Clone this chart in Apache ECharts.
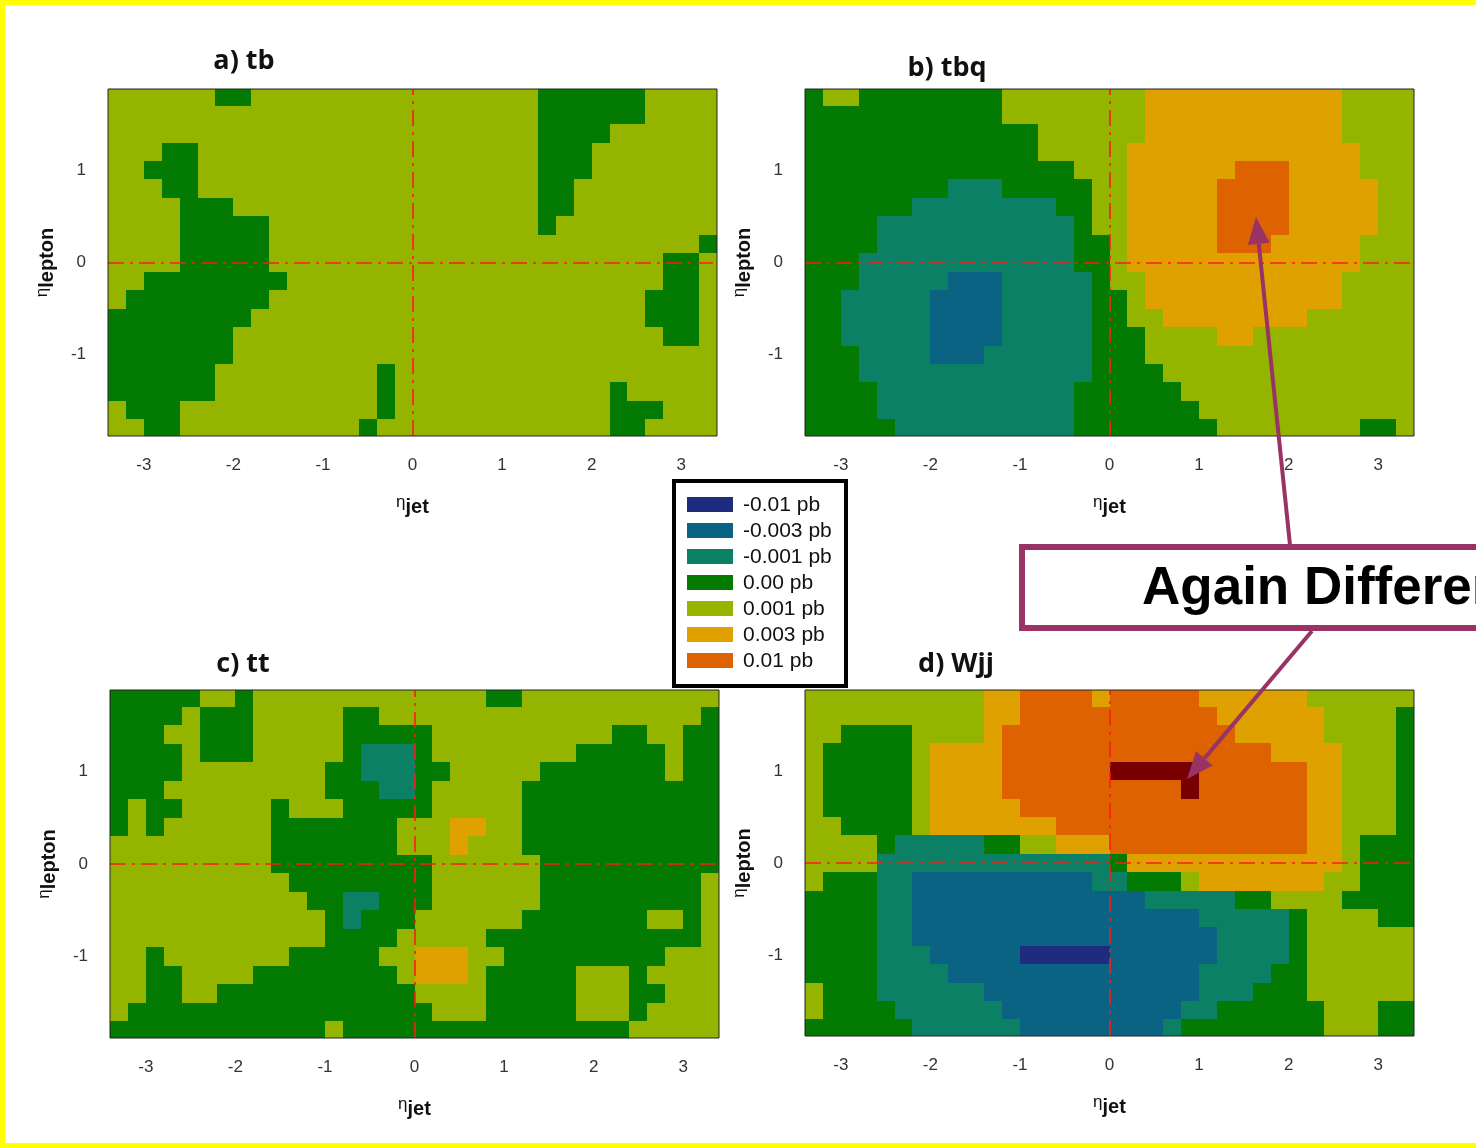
<!DOCTYPE html>
<html>
<head>
<meta charset="utf-8">
<title>eta_jet vs eta_lepton asymmetry maps</title>
<script src="https://cdn.jsdelivr.net/npm/echarts@6/dist/echarts.min.js"></script>
<style>
  html, body { margin: 0; padding: 0; background: #ffffff; }
  #chart { width: 1476px; height: 1148px; }
</style>
</head>
<body>
<div id="chart"></div>
<script>
// Contour levels (pb) and their fill colours; index 7 is the level above 0.01 pb
const LEVELS = [-0.01, -0.003, -0.001, 0, 0.001, 0.003, 0.01, 0.03];
const LEVEL_COLORS = ['#1f2b7e', '#0b6384', '#0b8064', '#037a02', '#94b400', '#dfa100', '#de6300', '#780000'];
const LEGEND_LABELS = ['-0.01 pb', '-0.003 pb', '-0.001 pb', '0.00 pb', '0.001 pb', '0.003 pb', '0.01 pb'];

const X_TICKS = [-3, -2, -1, 0, 1, 2, 3];
const Y_TICKS = [-1, 0, 1];

// Sampling grid: 34 columns in eta_jet (centres -3.3 .. 3.3), 19 rows in eta_lepton (centres 1.8 .. -1.8)
const X_FIRST = -3.3, Y_FIRST = 1.8, STEP = 0.2;

const PANEL_TITLES = ['a) tb', 'b) tbq', 'c) tt', 'd) Wjj'];

// Each row (top to bottom) is run-length coded as "level x count", level = index into LEVELS
const TB = [
  '4x6 3x2 4x16 3x6 4x4',
  '4x24 3x6 4x4',
  '4x24 3x4 4x6',
  '4x3 3x2 4x19 3x3 4x7',
  '4x2 3x3 4x19 3x3 4x7',
  '4x3 3x2 4x19 3x2 4x8',
  '4x4 3x3 4x17 3x2 4x8',
  '4x4 3x5 4x15 3x1 4x9',
  '4x4 3x5 4x24 3x1',
  '4x4 3x5 4x22 3x2 4x1',
  '4x2 3x8 4x21 3x2 4x1',
  '4x1 3x8 4x21 3x3 4x1',
  '3x8 4x22 3x3 4x1',
  '3x7 4x24 3x2 4x1',
  '3x7 4x27',
  '3x6 4x9 3x1 4x18',
  '3x6 4x9 3x1 4x12 3x1 4x5',
  '4x1 3x3 4x11 3x1 4x12 3x3 4x3',
  '4x2 3x2 4x10 3x1 4x13 3x2 4x4'
];

const TBQ = [
  '3x1 4x2 3x8 4x8 5x11 4x4',
  '3x11 4x8 5x11 4x4',
  '3x13 4x6 5x11 4x4',
  '3x13 4x5 5x13 4x3',
  '3x15 4x3 5x6 6x3 5x4 4x3',
  '3x8 2x3 3x5 4x2 5x5 6x4 5x5 4x2',
  '3x6 2x8 3x2 4x2 5x5 6x4 5x5 4x2',
  '3x4 2x11 3x1 4x2 5x5 6x4 5x5 4x2',
  '3x4 2x11 3x2 4x1 5x5 6x3 5x5 4x3',
  '3x3 2x12 3x2 4x1 5x13 4x3',
  '3x3 2x5 1x3 2x5 3x1 4x2 5x11 4x4',
  '3x2 2x5 1x4 2x5 3x2 4x1 5x11 4x4',
  '3x2 2x5 1x4 2x5 3x2 4x2 5x8 4x6',
  '3x2 2x5 1x4 2x5 3x3 4x4 5x2 4x9',
  '3x3 2x4 1x3 2x6 3x3 4x15',
  '3x3 2x13 3x4 4x14',
  '3x4 2x11 3x6 4x13',
  '3x4 2x11 3x7 4x12',
  '3x5 2x10 3x8 4x8 3x2 4x1'
];

const TT = [
  '3x5 4x2 3x1 4x13 3x2 4x11',
  '3x4 4x1 3x3 4x5 3x2 4x18 3x1',
  '3x3 4x2 3x3 4x5 3x5 4x10 3x2 4x2 3x2',
  '3x4 4x1 3x3 4x5 3x1 2x3 3x1 4x8 3x5 4x1 3x2',
  '3x4 4x8 3x2 2x3 3x2 4x5 3x7 4x1 3x2',
  '3x3 4x9 3x3 2x2 3x1 4x5 3x11',
  '3x1 4x1 3x2 4x5 3x1 4x3 3x5 4x5 3x11',
  '3x1 4x1 3x1 4x6 3x7 4x3 5x2 4x2 3x11',
  '4x9 3x7 4x3 5x1 4x3 3x11',
  '4x9 3x9 4x6 3x10',
  '4x10 3x8 4x6 3x9 4x1',
  '4x11 3x2 2x2 3x3 4x6 3x9 4x1',
  '4x12 3x1 2x1 3x3 4x6 3x7 4x2 3x1 4x1',
  '4x12 3x4 4x5 3x12 4x1',
  '4x2 3x1 4x7 3x5 4x2 5x3 4x2 3x9 4x3',
  '4x2 3x2 4x4 3x8 4x1 5x3 4x1 3x5 4x3 3x1 4x4',
  '4x2 3x2 4x2 3x11 4x4 3x5 4x3 3x2 4x3',
  '4x1 3x17 4x3 3x5 4x3 3x1 4x4',
  '3x12 4x1 3x16 4x5'
];

const WJJ = [
  '4x10 5x2 6x4 5x1 6x5 5x6 4x6',
  '4x10 5x2 6x11 5x6 4x4 3x1',
  '4x2 3x4 4x4 5x1 6x13 5x5 4x4 3x1',
  '4x1 3x5 4x1 5x4 6x15 5x4 4x3 3x1',
  '4x1 3x5 4x1 5x4 6x6 7x5 6x6 5x2 4x3 3x1',
  '4x1 3x5 4x1 5x4 6x10 7x1 6x6 5x2 4x3 3x1',
  '4x1 3x5 4x1 5x5 6x16 5x2 4x3 3x1',
  '4x2 3x4 4x1 5x7 6x14 5x2 4x3 3x1',
  '4x4 3x1 2x5 3x2 4x2 5x3 6x11 5x2 4x1 3x3',
  '4x4 2x13 3x1 5x12 4x1 3x3',
  '4x1 3x3 2x2 1x10 2x2 3x3 4x1 5x7 4x2 3x3',
  '3x4 2x2 1x13 2x5 3x2 4x4 3x4',
  '3x4 2x2 1x16 2x5 3x1 4x4 3x2',
  '3x4 2x2 1x17 2x4 3x1 4x6',
  '3x4 2x3 1x5 0x5 1x6 2x4 3x1 4x6',
  '3x4 2x4 1x14 2x4 3x2 4x6',
  '4x1 3x3 2x6 1x12 2x3 3x3 4x6',
  '4x1 3x4 2x6 1x10 2x2 3x6 4x3 3x2',
  '3x6 2x6 1x8 2x1 3x8 4x3 3x2'
];

const PANEL_ROWS = [TB, TBQ, TT, WJJ];

// Plot rectangles of the four panels (pixels)
const GRIDS = [
  { left: 108, top: 89, width: 609, height: 347 },
  { left: 805, top: 89, width: 609, height: 347 },
  { left: 110, top: 690, width: 609, height: 348 },
  { left: 805, top: 690, width: 609, height: 346 }
];
const X_RANGE = [-3.4, 3.4];
const Y_RANGE = [-1.88, 1.88];

function decodeRow(row) {
  const out = [];
  row.trim().split(/\s+/).forEach(tok => {
    const [lvl, n] = tok.split('x').map(Number);
    for (let k = 0; k < n; k++) out.push(lvl);
  });
  return out;
}

function cellsFor(rows) {
  const data = [];
  rows.forEach((row, j) => {
    decodeRow(row).forEach((lvl, i) => {
      const x = Math.round((X_FIRST + i * STEP) * 100) / 100;
      const y = Math.round((Y_FIRST - j * STEP) * 100) / 100;
      data.push([x, y, LEVELS[lvl]]);
    });
  });
  return data;
}

function colorOf(v) {
  const idx = LEVELS.indexOf(v);
  return LEVEL_COLORS[idx < 0 ? 3 : idx];
}

// One filled cell per sample, snapped to whole pixels so neighbours meet without seams
function renderCell(params, api) {
  const x = api.value(0), y = api.value(1), v = api.value(2);
  const p0 = api.coord([x - STEP / 2, y + STEP / 2]);
  const p1 = api.coord([x + STEP / 2, y - STEP / 2]);
  const cs = params.coordSys;
  const x0 = Math.max(Math.round(p0[0]), Math.round(cs.x));
  const x1 = Math.min(Math.round(p1[0]), Math.round(cs.x + cs.width));
  const y0 = Math.max(Math.round(p0[1]), Math.round(cs.y));
  const y1 = Math.min(Math.round(p1[1]), Math.round(cs.y + cs.height));
  if (x1 <= x0 || y1 <= y0) return null;
  return {
    type: 'rect',
    shape: { x: x0, y: y0, width: x1 - x0, height: y1 - y0 },
    style: { fill: colorOf(v) }
  };
}

const TICK_FONT = { fontSize: 17, color: '#333', fontFamily: 'Liberation Sans, Arial, sans-serif' };
const NAME_RICH = {
  e: { fontSize: 17, color: '#111', fontFamily: 'Liberation Sans, Arial, sans-serif', padding: [0, 0, 9, 0] },
  s: { fontSize: 20, fontWeight: 'bold', color: '#111', fontFamily: 'Liberation Sans, Arial, sans-serif' }
};

const grid = [], xAxis = [], yAxis = [], series = [];
GRIDS.forEach((g, k) => {
  grid.push(Object.assign({
    show: true, z: 10, backgroundColor: 'rgba(0,0,0,0)',
    borderColor: '#222', borderWidth: 1, containLabel: false
  }, g));
  xAxis.push({
    gridIndex: k, type: 'value', min: X_RANGE[0], max: X_RANGE[1],
    axisLine: { show: false }, splitLine: { show: false },
    axisTick: { show: true, length: 6, customValues: X_TICKS, lineStyle: { color: '#444' } },
    axisLabel: Object.assign({ customValues: X_TICKS, margin: 21 }, TICK_FONT),
    name: '{e|η}{s|jet}', nameLocation: 'middle', nameGap: 58,
    nameTextStyle: { rich: NAME_RICH }
  });
  yAxis.push({
    gridIndex: k, type: 'value', min: Y_RANGE[0], max: Y_RANGE[1],
    axisLine: { show: false }, splitLine: { show: false },
    axisTick: { show: true, length: 7, customValues: Y_TICKS, lineStyle: { color: '#444' } },
    axisLabel: Object.assign({ customValues: Y_TICKS, margin: 22 }, TICK_FONT),
    name: '{e|η}{s|lepton}', nameLocation: 'middle', nameGap: 48, nameRotate: 90,
    nameTextStyle: { rich: NAME_RICH }
  });
  series.push({
    type: 'custom', name: PANEL_TITLES[k],
    xAxisIndex: k, yAxisIndex: k,
    renderItem: renderCell,
    encode: { x: 0, y: 1 },
    data: cellsFor(PANEL_ROWS[k]),
    silent: true,
    markLine: {
      silent: true, symbol: ['none', 'none'], label: { show: false },
      lineStyle: { color: '#ff1a1a', width: 1.6, type: [16, 6, 3, 6] },
      data: [{ xAxis: 0 }, { yAxis: 0 }],
      animation: false
    }
  });
});

// Panel titles, legend, annotation
const TITLE_POS = [[244, 61], [947, 68], [243, 664], [956, 664]];
const graphic = [];

// slide frame
graphic.push({ type: 'rect', shape: { x: 0, y: 0, width: 1476, height: 5 }, style: { fill: '#ffff00' }, z: 100 });
graphic.push({ type: 'rect', shape: { x: 0, y: 0, width: 5, height: 1148 }, style: { fill: '#ffff00' }, z: 100 });
graphic.push({ type: 'rect', shape: { x: 0, y: 1143, width: 1476, height: 5 }, style: { fill: '#ffff00' }, z: 100 });

PANEL_TITLES.forEach((t, k) => {
  graphic.push({
    type: 'text', x: TITLE_POS[k][0], y: TITLE_POS[k][1], z: 50,
    style: {
      text: t, fill: '#111', font: "bold 27px 'Open Sans', sans-serif",
      align: 'center', verticalAlign: 'middle'
    }
  });
});

// legend box
const legendChildren = [{
  type: 'rect', shape: { x: 0, y: 0, width: 172, height: 205 },
  style: { fill: '#ffffff', stroke: '#000000', lineWidth: 4 }
}];
LEGEND_LABELS.forEach((lab, k) => {
  legendChildren.push({
    type: 'rect', shape: { x: 13, y: 16 + k * 26, width: 46, height: 15 },
    style: { fill: LEVEL_COLORS[k] }
  });
  legendChildren.push({
    type: 'text', x: 69, y: 24 + k * 26,
    style: {
      text: lab, fill: '#111', font: "21px 'Liberation Sans', Arial, sans-serif",
      align: 'left', verticalAlign: 'middle'
    }
  });
});
graphic.push({ type: 'group', x: 674, y: 481, z: 60, children: legendChildren });

// annotation box with two arrows
const NOTE_COLOR = '#993366';
graphic.push({
  type: 'rect', z: 70, shape: { x: 1022, y: 547, width: 480, height: 81 },
  style: { fill: '#ffffff', stroke: NOTE_COLOR, lineWidth: 6 }
});
graphic.push({
  type: 'text', x: 1142, y: 589, z: 71,
  style: {
    text: 'Again Different', fill: '#000', font: "bold 53px 'Liberation Sans', Arial, sans-serif",
    align: 'left', verticalAlign: 'middle'
  }
});
const ARROWS = [
  { from: [1290, 545], to: [1256, 217] },
  { from: [1312, 631], to: [1187, 779] }
];
ARROWS.forEach(a => {
  const dx = a.to[0] - a.from[0], dy = a.to[1] - a.from[1];
  const len = Math.sqrt(dx * dx + dy * dy);
  const ux = dx / len, uy = dy / len;
  const headL = 27, headW = 11;
  const bx = a.to[0] - ux * headL, by = a.to[1] - uy * headL;
  graphic.push({
    type: 'line', z: 72,
    shape: { x1: a.from[0], y1: a.from[1], x2: bx, y2: by },
    style: { stroke: NOTE_COLOR, lineWidth: 4 }
  });
  graphic.push({
    type: 'polygon', z: 72,
    shape: { points: [a.to, [bx - uy * headW, by + ux * headW], [bx + uy * headW, by - ux * headW]] },
    style: { fill: NOTE_COLOR }
  });
});

const chart = echarts.init(document.getElementById('chart'), null, { renderer: 'canvas' });
chart.setOption({
  backgroundColor: '#ffffff',
  animation: false,
  grid: grid,
  xAxis: xAxis,
  yAxis: yAxis,
  series: series,
  graphic: graphic
});
</script>
</body>
</html>
